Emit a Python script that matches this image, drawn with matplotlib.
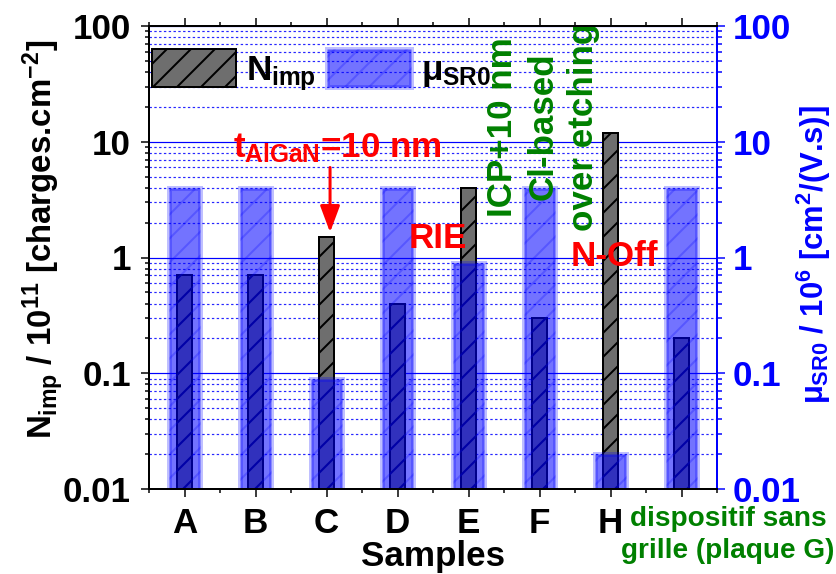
import numpy as np
import matplotlib
matplotlib.use("Agg")
import matplotlib.pyplot as plt
from matplotlib.ticker import LogLocator, NullFormatter

# values
samples = ["A", "B", "C", "D", "E", "F", "H", ""]
n_imp = [0.7, 0.7, 1.5, 0.4, 4.0, 0.3, 12.0, 0.2]      # N_imp / 1e11 charges.cm-2
mu_sr0 = [4.0, 4.0, 0.09, 4.0, 0.9, 4.0, 0.02, 4.0]    # mu_SR0 / 1e6 cm2/(V.s)
decade_ticks = [0.01, 0.1, 1, 10, 100]
decade_labels = ["0.01", "0.1", "1", "10", "100"]

BLUE = "#0000FF"
GREEN = "#008000"
RED = "#FF0000"

plt.rcParams.update({
    "font.family": "Liberation Sans",
    "font.weight": "bold",
    "axes.labelweight": "bold",
    "font.size": 35,
    "mathtext.fontset": "custom",
    "mathtext.rm": "Liberation Sans:bold",
    "mathtext.it": "Liberation Sans:bold",
    "mathtext.bf": "Liberation Sans:bold",
    "mathtext.sf": "Liberation Sans:bold",
    "hatch.linewidth": 2.0,
    "axes.linewidth": 2.0,
})

# dpi 72 -> one point is one pixel
fig = plt.figure(figsize=(836 / 72, 574 / 72), dpi=72)
ax = fig.add_axes([149 / 836, 1 - 489 / 574, 568 / 836, 463 / 574])
x = np.arange(1, len(samples) + 1)

ax.set_yscale("log")
b_n = ax.bar(x, n_imp, width=0.2, color="#6e6e6e", edgecolor="black", lw=2,
             hatch="/", zorder=2)
b_mu = ax.bar(x, mu_sr0, width=0.45, color=(0, 0, 1, 0.55),
              edgecolor=(0, 0, 1, 0.25), lw=5, hatch="/", zorder=3)

ax.set_xlim(0.5, len(samples) + 0.5)
ax.set_ylim(0.01, 100)
ax.set_xticks(x)
ax.set_xticklabels(samples)
ax.set_xticks(np.arange(0.5, len(samples) + 1, 1.0), minor=True)
ax.set_yticks(decade_ticks)
ax.set_yticklabels(decade_labels)
ax.yaxis.set_minor_locator(LogLocator(base=10, subs=np.arange(2, 10)))
ax.yaxis.set_minor_formatter(NullFormatter())
ax.tick_params(which="major", direction="out", length=8, width=1.5, top=True)
ax.tick_params(which="minor", direction="out", length=4, width=1.5, top=True)
ax.tick_params(axis="y", which="major", pad=10)
ax.tick_params(axis="x", which="major", pad=10)

ax.set_axisbelow(True)
ax.grid(True, which="major", axis="y", color=BLUE, lw=1.2, ls="-")
ax.grid(True, which="minor", axis="y", color=BLUE, lw=1.2, ls=(0, (2, 2)), alpha=0.85)

ax.set_xlabel("Samples", labelpad=0, fontweight="bold")

# right axis (mobility)
ax2 = ax.twinx()
ax2.set_yscale("log")
ax2.set_ylim(0.01, 100)
ax2.set_yticks(decade_ticks)
ax2.set_yticklabels(decade_labels)
ax2.yaxis.set_minor_locator(LogLocator(base=10, subs=np.arange(2, 10)))
ax2.yaxis.set_minor_formatter(NullFormatter())
ax2.spines["right"].set_color(BLUE)
ax2.tick_params(axis="y", which="major", colors=BLUE, direction="out", length=8,
                width=1.5, pad=8)
ax2.tick_params(axis="y", which="minor", colors=BLUE, direction="out", length=5,
                width=1.5)

fig.text(43 / 836, 1 - 239 / 574, r"$N_{imp}$ / 10$^{11}$ [charges.cm$^{-2}$]",
         rotation=90, ha="center", va="center", fontsize=33)
fig.text(814 / 836, 1 - 255 / 574, r"$μ_{SR0}$ / 10$^{6}$ [cm$^{2}$/(V.s)]",
         rotation=90, ha="center", va="center", fontsize=31, color=BLUE)

ax.legend([b_n, b_mu], [r"$N_{imp}$", r"$μ_{SR0}$"], loc="upper left",
          bbox_to_anchor=(0.005, 0.95), ncol=2, frameon=False, borderpad=0,
          borderaxespad=0, handlelength=2.4, handleheight=1.3,
          handletextpad=0.3, columnspacing=0.3, fontsize=35)

# annotations
ax.text(1.69, 7.3, r"$t_{AlGaN}$=10 nm", color=RED, ha="left", va="baseline")
ax.annotate("", xy=(3.05, n_imp[2] * 1.1), xytext=(3.05, 6.0),
            arrowprops=dict(arrowstyle="-|>,head_length=0.75,head_width=0.28",
                            color=RED, lw=3, shrinkA=0, shrinkB=0,
                            mutation_scale=30))
ax.text(4.57, 1.46, "RIE", color=RED, ha="center", va="center")
ax.text(7.06, 1.02, "N-Off", color=RED, ha="center", va="center")
ax.text(6.05, 13.5, "ICP+10 nm\nCl-based\nover etching", color=GREEN,
        rotation=90, ha="center", va="center", multialignment="center",
        linespacing=1.3)
fig.text(728 / 836, 1 - 535 / 574, "dispositif sans\ngrille (plaque G)",
         color=GREEN, ha="center", va="center", multialignment="center",
         fontsize=28, linespacing=1.3)

fig.savefig("out.png", dpi=72)
